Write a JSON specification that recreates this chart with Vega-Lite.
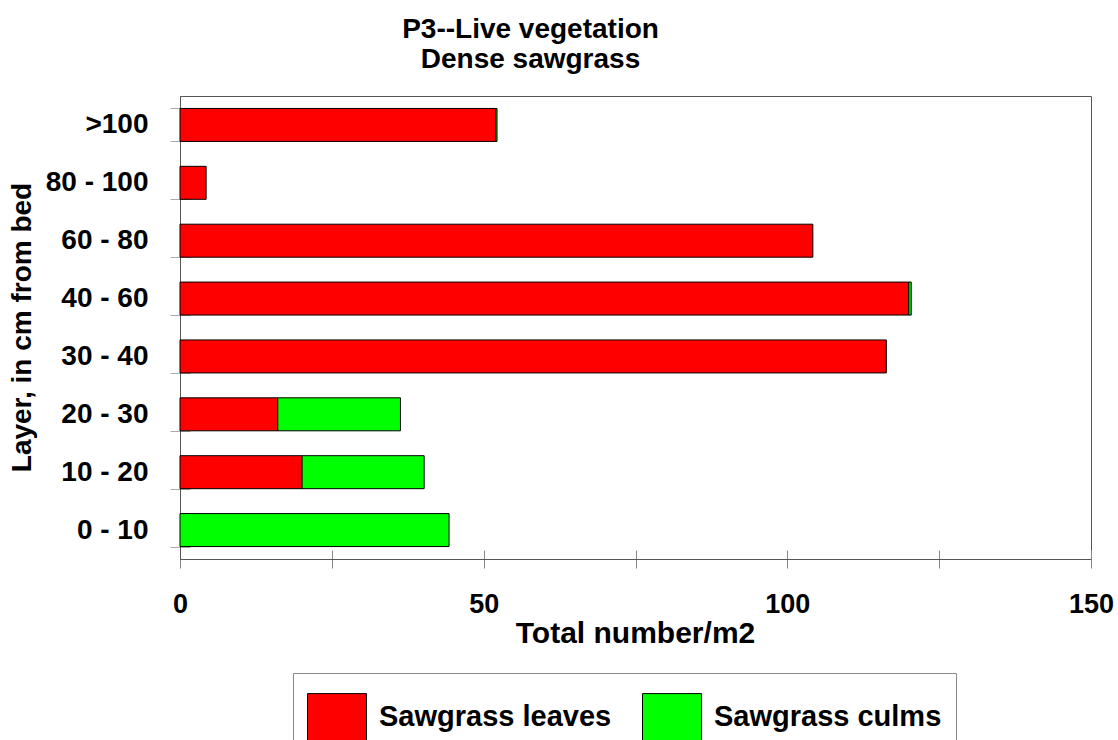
{
  "$schema": "https://vega.github.io/schema/vega-lite/v6.json",
  "autosize": "none",
  "width": 911,
  "height": 463,
  "padding": {"left": 180, "top": 96, "right": 27, "bottom": 181},
  "background": "white",
  "config": {
    "font": "Liberation Sans",
    "view": {"stroke": "#555", "strokeWidth": 1}
  },
  "title": {
    "text": ["P3--Live vegetation", "Dense sawgrass"],
    "font": "Liberation Sans",
    "fontSize": 28,
    "fontWeight": "bold",
    "color": "#000",
    "anchor": "middle",
    "dx": -105,
    "offset": 8,
    "lineHeight": 30
  },
  "data": {
    "values": [
      {"layer": ">100", "type": "Sawgrass leaves", "value": 52.0},
      {"layer": ">100", "type": "Sawgrass culms", "value": 0.2},
      {"layer": "80 - 100", "type": "Sawgrass leaves", "value": 4.3},
      {"layer": "60 - 80", "type": "Sawgrass leaves", "value": 104.2},
      {"layer": "40 - 60", "type": "Sawgrass leaves", "value": 120.0},
      {"layer": "40 - 60", "type": "Sawgrass culms", "value": 0.4},
      {"layer": "30 - 40", "type": "Sawgrass leaves", "value": 116.3},
      {"layer": "20 - 30", "type": "Sawgrass leaves", "value": 16.1},
      {"layer": "20 - 30", "type": "Sawgrass culms", "value": 20.2},
      {"layer": "10 - 20", "type": "Sawgrass leaves", "value": 20.1},
      {"layer": "10 - 20", "type": "Sawgrass culms", "value": 20.1},
      {"layer": "0 - 10", "type": "Sawgrass culms", "value": 44.3}
    ]
  },
  "mark": {"type": "bar", "stroke": "#000", "strokeWidth": 1, "opacity": 1},
  "encoding": {
    "y": {
      "field": "layer",
      "type": "nominal",
      "sort": [">100", "80 - 100", "60 - 80", "40 - 60", "30 - 40", "20 - 30", "10 - 20", "0 - 10"],
      "scale": {"paddingInner": 0.43, "paddingOuter": 0.215},
      "axis": {
        "title": "Layer, in cm from bed",
        "titleFont": "Liberation Sans",
        "titleFontSize": 28,
        "titleFontWeight": "bold",
        "titleColor": "#000",
        "titleAngle": 270,
        "titleX": -158,
        "titleY": 231,
        "titleAlign": "center",
        "titleBaseline": "middle",
        "labelFont": "Liberation Sans",
        "labelFontSize": 28,
        "labelFontWeight": "bold",
        "labelColor": "#000",
        "labelPadding": 22,
        "labelAlign": "right",
        "labelBaseline": "middle",
        "tickBand": "extent",
        "tickSize": 10,
        "tickColor": "#aaa",
        "domainColor": "#555",
        "grid": true,
        "gridDash": [10, 3000],
        "gridColor": "#aaa"
      }
    },
    "x": {
      "field": "value",
      "type": "quantitative",
      "stack": "zero",
      "scale": {"domain": [0, 150], "nice": false},
      "axis": {
        "title": "Total number/m2",
        "titleFont": "Liberation Sans",
        "titleFontSize": 30,
        "titleFontWeight": "bold",
        "titleColor": "#000",
        "titleAlign": "center",
        "titleBaseline": "alphabetic",
        "titleX": 455,
        "titleY": 83,
        "values": [0, 25, 50, 75, 100, 125, 150],
        "labelExpr": "datum.value % 50 === 0 ? datum.label : ''",
        "labelFont": "Liberation Sans",
        "labelFontSize": 27,
        "labelFontWeight": "bold",
        "labelColor": "#000",
        "labelBaseline": "alphabetic",
        "labelPadding": 44,
        "labelFlush": false,
        "labelOverlap": false,
        "tickSize": 9,
        "tickColor": "#888",
        "domainColor": "#555",
        "grid": true,
        "gridDash": [9, 3000],
        "gridColor": "#888"
      }
    },
    "color": {
      "field": "type",
      "type": "nominal",
      "scale": {"domain": ["Sawgrass leaves", "Sawgrass culms"], "range": ["#FF0000", "#00FF00"]},
      "legend": {
        "title": null,
        "orient": "none",
        "legendX": 113,
        "legendY": 577,
        "direction": "horizontal",
        "columns": 2,
        "padding": 14,
        "fillColor": "white",
        "strokeColor": "#888",
        "symbolType": "M-1,-0.8H1V0.8H-1Z",
        "symbolSize": 3481,
        "symbolStrokeColor": "#000",
        "symbolStrokeWidth": 1,
        "symbolOpacity": 1,
        "labelFont": "Liberation Sans",
        "labelFontSize": 29,
        "labelFontWeight": "bold",
        "labelColor": "#000",
        "labelOffset": 12,
        "columnPadding": 28,
        "labelLimit": 400
      }
    },
    "order": {"field": "type", "sort": "descending"}
  }
}
